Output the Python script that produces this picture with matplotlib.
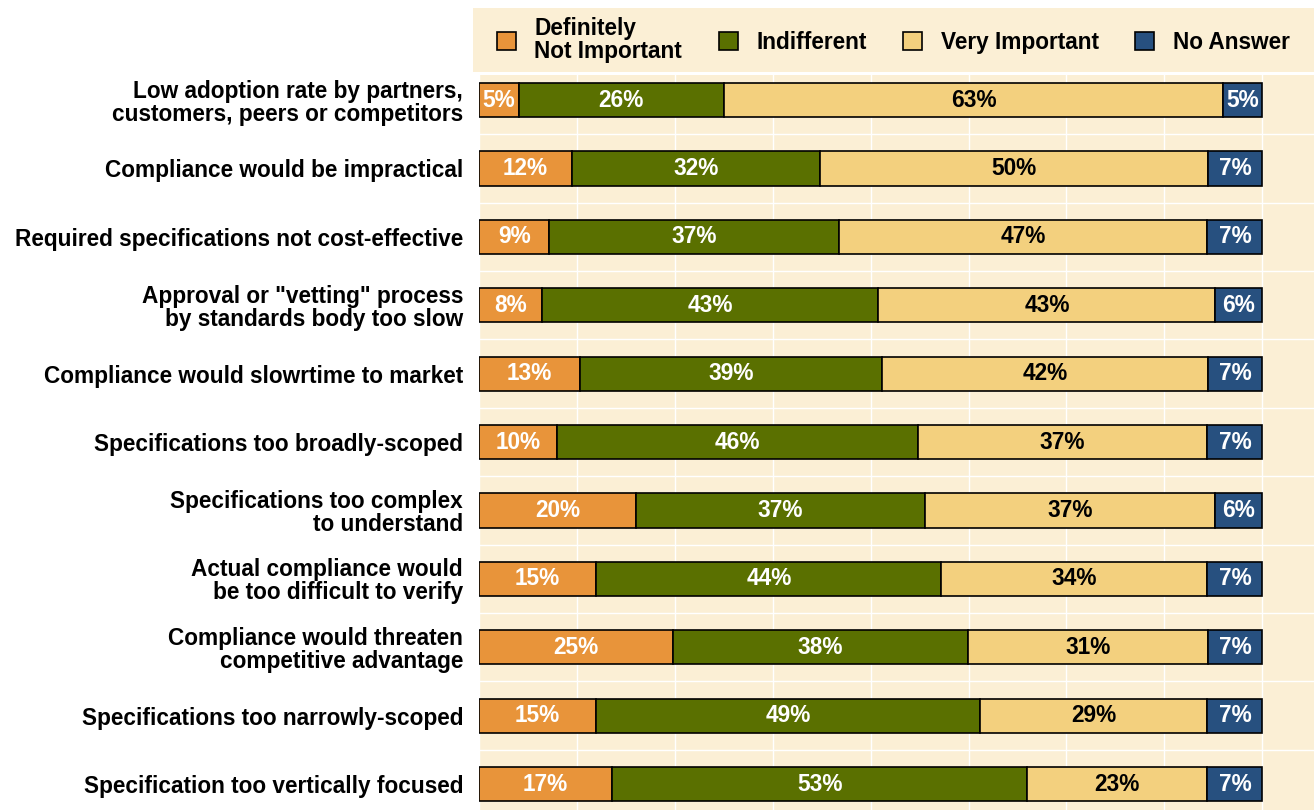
import numpy as np
import matplotlib
matplotlib.use("Agg")
from matplotlib import pyplot as plt
from matplotlib.patches import Patch, Rectangle

plt.rcParams['font.family'] = ['Liberation Sans', 'DejaVu Sans']
plt.rcParams['font.weight'] = 'bold'

reasons = [
    "Low adoption rate by partners,\ncustomers, peers or competitors",
    "Compliance would be impractical",
    "Required specifications not cost-effective",
    "Approval or \"vetting\" process\nby standards body too slow",
    "Compliance would slowrtime to market",
    "Specifications too broadly-scoped",
    "Specifications too complex\nto understand",
    "Actual compliance would\nbe too difficult to verify",
    "Compliance would threaten\ncompetitive advantage",
    "Specifications too narrowly-scoped",
    "Specification too vertically focused",
]
not_important = [5, 12, 9, 8, 13, 10, 20, 15, 25, 15, 17]
indifferent = [26, 32, 37, 43, 39, 46, 37, 44, 38, 49, 53]
very_important = [63, 50, 47, 43, 42, 37, 37, 34, 31, 29, 23]
no_answer = [5, 7, 7, 6, 7, 7, 6, 7, 7, 7, 7]

series = ["Definitely\nNot Important", "Indifferent", "Very Important", "No Answer"]
colors = ["#E8943A", "#5A7000", "#F3D07E", "#27507F"]
text_colors = ["white", "white", "black", "white"]
bg = "#FBEFD5"
fs = 16.3

vals = np.array([not_important, indifferent, very_important, no_answer], dtype=float)
shares = vals / vals.sum(axis=0)   # each bar fills 100%

fig = plt.figure(figsize=(13.14, 8.10), dpi=100)
ax = fig.add_axes([479 / 1314, 0, 835 / 1314, 735 / 810])
ax.set_facecolor(bg)

# background band behind the legend
fig.patches.append(Rectangle((473 / 1314, 1 - 72 / 810), 1, 64 / 810,
                             transform=fig.transFigure, facecolor=bg,
                             edgecolor="none", zorder=0))

y = np.arange(len(reasons))
left = np.zeros(len(reasons))
for i in range(4):
    ax.barh(y, shares[i], left=left, height=0.5, color=colors[i],
            edgecolor="black", linewidth=1.2, zorder=3)
    for j in range(len(reasons)):
        ax.text(left[j] + shares[i, j] / 2, y[j], "%d%%" % vals[i, j],
                ha="center", va="center", fontsize=fs, fontweight="bold",
                color=text_colors[i], zorder=4)
    left += shares[i]

# grid
for gx in np.arange(0, 1.01, 0.125):
    ax.axvline(gx, color="white", lw=1.0, zorder=1)
for gy in np.arange(0.5, len(reasons), 1.0):
    ax.axhline(gy, color="white", lw=1.0, zorder=1)

ax.set_xlim(0, 1.066)
ax.set_ylim(10.38, -0.366)
ax.set_yticks(y)
ax.set_yticklabels(reasons, fontsize=fs, fontweight="bold", linespacing=1.0)
ax.tick_params(axis="y", length=0, pad=11.5)
ax.set_xticks([])
for s in ax.spines.values():
    s.set_visible(False)

handles = [Patch(facecolor=c, edgecolor="black", linewidth=1.2) for c in colors]
leg = fig.legend(handles, series, loc="center left",
                 bbox_to_anchor=(497 / 1314, 1 - 40 / 810), ncol=4, frameon=False,
                 handlelength=0.85, handleheight=0.85,
                 handletextpad=0.8, columnspacing=1.62, borderpad=0,
                 borderaxespad=0, prop={"weight": "bold", "size": fs})
for t in leg.get_texts():
    t.set_linespacing(0.95)

fig.savefig("out.png", dpi=100, facecolor="white")
